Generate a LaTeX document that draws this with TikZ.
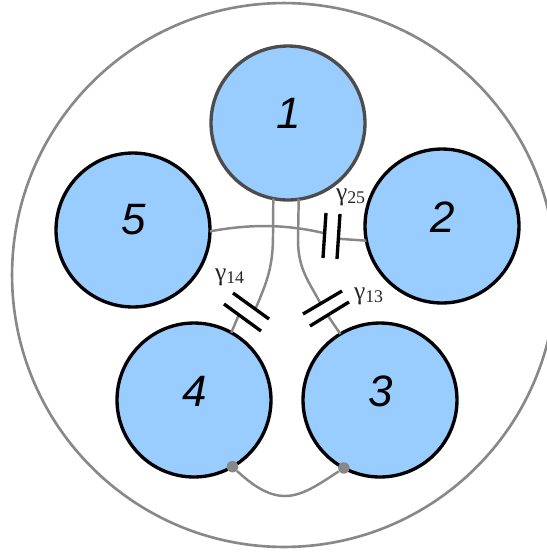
\documentclass[tikz,border=0pt]{standalone}
\usepackage{fontspec}
\usetikzlibrary{calc}
\setmainfont{Liberation Serif}
\newfontfamily\numfont{Liberation Sans}
\definecolor{disc}{HTML}{99CCFF}
\definecolor{wire}{HTML}{888888}
\tikzset{
  disc/.style={circle,draw=black,fill=disc,line width=1.9pt,minimum size=3.08cm,inner sep=0pt,outer sep=0pt},
  digit/.style={inner sep=0pt,font=\numfont\itshape\fontsize{25}{25}\selectfont},
  wire/.style={draw=wire,line width=1.4pt},
  plate/.style={draw=black,line width=1.9pt},
  solder/.style={circle,fill=wire,minimum size=0.23cm,inner sep=0pt},
  gamma/.style={font=\fontsize{14.5}{14.5}\selectfont,inner sep=0pt,text=black!85}
}
\begin{document}
\begin{tikzpicture}[x=0.02cm,y=-0.02cm]
\useasboundingbox (0,0) rectangle (547,552);
\begin{scope}
\clip (0,0) rectangle (547,552);
\draw[draw=wire,line width=1.5pt] (284,275) circle[radius=5.44cm];
\end{scope}
% discs
\node[disc,draw=black!70] (d1) at (288,123) {};
\node[disc] (d2) at (442,226) {};
\node[disc] (d3) at (380,400) {};
\node[disc] (d4) at (194,400) {};
\node[disc] (d5) at (133,230) {};
\node[digit] (t1) at (289,113) {1};
\node[digit] (t2) at (443,217) {2};
\node[digit] (t3) at (381,391) {3};
\node[digit] (t4) at (195,391) {4};
\node[digit] (t5) at (134,220) {5};
% plate end points
\coordinate (a1) at (326,213); \coordinate (a2) at (323,258);
\coordinate (b1) at (340,214); \coordinate (b2) at (337,259);
\coordinate (c1) at (233,293); \coordinate (c2) at (269,319);
\coordinate (e1) at (224,304); \coordinate (e2) at (261,331);
\coordinate (f1) at (342,291); \coordinate (f2) at (303,314);
\coordinate (g1) at (349,302); \coordinate (g2) at (310,326);
% wires
\path[wire] (d5.-1.5) .. controls (250,224) and (285,224) .. ($(a1)!0.45!(a2)$);
\path[wire] ($(b1)!0.55!(b2)$) -- (d2.191);
\path[wire] (d1.-101) -- (273,235) .. controls (273,265) and (268,280) .. ($(c1)!0.62!(c2)$);
\path[wire] ($(e1)!0.4!(e2)$) -- (d4.61.5);
\path[wire] (d1.-82.6) -- (298,240) .. controls (298,270) and (310,283) .. ($(f1)!0.55!(f2)$);
\path[wire] ($(g1)!0.55!(g2)$) -- (d3.121.6);
% plates
\draw[plate] (a1) -- (a2); \draw[plate] (b1) -- (b2);
\draw[plate] (c1) -- (c2); \draw[plate] (e1) -- (e2);
\draw[plate] (f1) -- (f2); \draw[plate] (g1) -- (g2);
% solder points
\node[solder] (s4) at (d4.-60.5) {};
\node[solder] (s3) at (d3.-118.8) {};
\path[wire] (s4) .. controls (252,485) and (268,496) .. (285,496) .. controls (302,496) and (318,485) .. (s3);
% labels
\node[gamma] (l14) at (230,277) {γ\textsubscript{14}};
\node[gamma] (l13) at (369,296) {γ\textsubscript{13}};
\node[gamma] (l25) at (351,197) {γ\textsubscript{25}};
\end{tikzpicture}
\end{document}
